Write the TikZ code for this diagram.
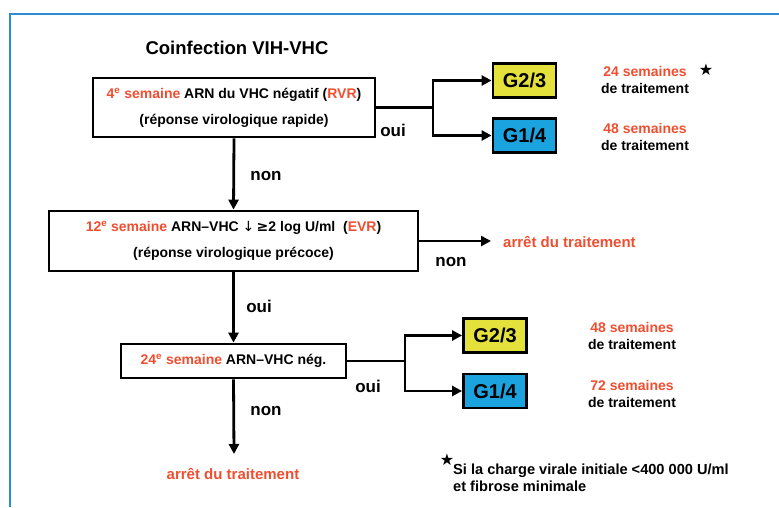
\documentclass[tikz,border=0pt]{standalone}
\usepackage{fontspec}
\setmainfont{Liberation Sans}
\newfontfamily\sym{DejaVu Sans}
\usetikzlibrary{arrows.meta}
\definecolor{orr}{HTML}{F04E30}
\definecolor{gyel}{HTML}{E4E03C}
\definecolor{gblu}{HTML}{1BA3E0}
\definecolor{frameblue}{HTML}{2A8BD6}
\tikzset{
 box/.style={draw, line width=2.8pt, inner sep=0pt, align=center, font=\fontsize{14}{26}\selectfont\bfseries},
 gbox/.style={draw, line width=2.8pt, minimum width=63pt, minimum height=34pt, inner sep=0pt, font=\fontsize{20}{20}\selectfont\bfseries},
 conn/.style={line width=2.8pt},
 vconn/.style={line width=2.8pt, line cap=rect},
 arr/.style={line width=2.8pt, -{Triangle[length=10pt,width=10pt]}},
 lab/.style={font=\fontsize{17}{17}\selectfont\bfseries, inner sep=0pt},
 trt/.style={align=center, inner sep=0pt, font=\fontsize{14}{17}\selectfont\bfseries},
 stop/.style={inner sep=0pt, text=orr, font=\fontsize{15}{17}\selectfont\bfseries},
 starmark/.style={inner sep=0pt, font=\sym\fontsize{16}{16}\selectfont},
}
\begin{document}
\begin{tikzpicture}[x=1pt,y=-1pt]
\useasboundingbox (0,0) rectangle (779,507);
\draw[frameblue, line width=2pt] (10,507) -- (10,14) -- (779,14);
\node[inner sep=0pt, font=\fontsize{18.5}{20}\selectfont\bfseries] (title) at (237,48) {Coinfection VIH-VHC};
% boxes
\node[box, minimum width=282pt, minimum height=59pt] (b1) at (234,107.5)
 {{\color{orr}4\textsuperscript{e} semaine} ARN du VHC négatif ({\color{orr}RVR})\\(réponse virologique rapide)};
\node[box, minimum width=369pt, minimum height=60pt] (b2) at (233.5,241)
 {{\color{orr}12\textsuperscript{e} semaine} ARN–VHC {\sym\mdseries ↓}\,{\sym ≥}2 log U/ml\ \ ({\color{orr}EVR})\\(réponse virologique précoce)};
\node[box, minimum width=225pt, minimum height=34pt] (b3) at (233.5,361)
 {{\color{orr}24\textsuperscript{e} semaine} ARN–VHC nég.};
\node[gbox, fill=gyel] (ga) at (524.5,80.5) {G2/3};
\node[gbox, fill=gblu] (gb) at (524.5,135.5) {G1/4};
\node[gbox, fill=gyel] (gc) at (495,335.5) {G2/3};
\node[gbox, fill=gblu] (gd) at (495,391) {G1/4};
% junctions
\coordinate (j1) at (433,107.5);
\coordinate (j3) at (405,361);
\coordinate (e2) at (491,241);
\coordinate (e3) at (234,454);
\draw[conn] (b1.east) -- (j1);
\draw[vconn] (j1 |- ga.west) -- (j1 |- gb.west);
\draw[arr] (j1 |- ga.west) -- (ga.west);
\draw[arr] (j1 |- gb.west) -- (gb.west);
\draw[conn] (b3.east) -- (j3);
\draw[vconn] (j3 |- gc.west) -- (j3 |- gd.west);
\draw[arr] (j3 |- gc.west) -- (gc.west);
\draw[arr] (j3 |- gd.west) -- (gd.west);
\draw[arr] (b1.south) -- (b2.north);
\draw[arr] (b2.south) -- (b3.north);
\draw[arr] (b2.east) -- (e2);
\draw[arr] (b3.south) -- (e3);
% labels
\node[lab] (l1) at (266,176) {non};
\node[lab] (l2) at (393,130) {oui};
\node[lab] (l3) at (451,262) {non};
\node[lab] (l4) at (259,306) {oui};
\node[lab] (l5) at (368,386) {oui};
\node[lab] (l6) at (266,411) {non};
\node[stop, anchor=west] (s1) at (503,242) {arrêt du traitement};
\node[stop] (s2) at (233,474) {arrêt du traitement};
% treatment durations
\node[trt] (t1) at (645,79.5) {{\color{orr}24 semaines}\\de traitement};
\node[starmark] (st1) at (706,70) {★};
\node[trt] (t2) at (645,136.5) {{\color{orr}48 semaines}\\de traitement};
\node[trt] (t3) at (632,335.5) {{\color{orr}48 semaines}\\de traitement};
\node[trt] (t4) at (632,393.5) {{\color{orr}72 semaines}\\de traitement};
% footnote
\node[starmark] (st2) at (447,460) {★};
\node[inner sep=0pt, anchor=north west, align=left, font=\fontsize{14.6}{16.5}\selectfont\bfseries] (fn) at (453,464)
 {Si la charge virale initiale <400 000 U/ml\\et fibrose minimale};
\end{tikzpicture}
\end{document}
